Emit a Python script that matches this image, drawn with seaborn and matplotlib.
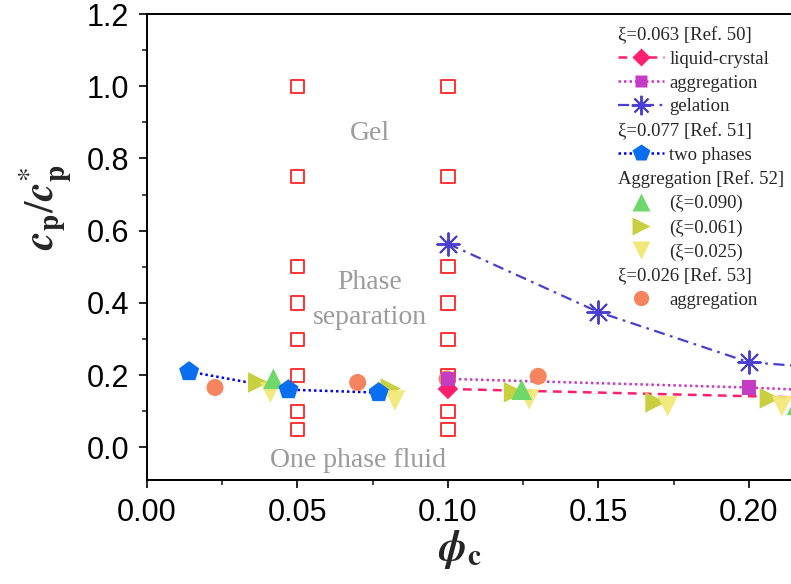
import numpy as np
import pandas as pd
import matplotlib
matplotlib.use('Agg')
import matplotlib.pyplot as plt
from matplotlib.lines import Line2D
from matplotlib.ticker import MultipleLocator, FormatStrFormatter
import seaborn as sns

# explored state points (open red squares)
grid_phi = [0.05, 0.10]
grid_cp = [0.05, 0.10, 0.20, 0.30, 0.40, 0.50, 0.75, 1.00]

# xi=0.063 [Ref. 50]
lc_phi = [0.10, 0.25]
lc_cp = [0.162, 0.132]
agg_phi = [0.10, 0.20, 0.25]
agg_cp = [0.190, 0.166, 0.148]
gel_phi = [0.10, 0.15, 0.20, 0.25]
gel_cp = [0.564, 0.375, 0.236, 0.205]

# xi=0.077 [Ref. 51]
two_phi = [0.014, 0.047, 0.077]
two_cp = [0.210, 0.160, 0.152]

# Aggregation [Ref. 52]
up_phi = [0.042, 0.1245, 0.216]
up_cp = [0.190, 0.160, 0.118]
right_phi = [0.037, 0.081, 0.122, 0.169, 0.207]
right_cp = [0.180, 0.163, 0.153, 0.125, 0.136]
down_phi = [0.041, 0.0824, 0.127, 0.173, 0.211]
down_cp = [0.152, 0.130, 0.133, 0.114, 0.114]

# xi=0.026 [Ref. 53]
circ_phi = [0.0226, 0.070, 0.0997, 0.130]
circ_cp = [0.166, 0.180, 0.190, 0.197]

sns.set_theme(style='ticks')
plt.rcParams['font.family'] = ['Liberation Sans', 'DejaVu Sans']
plt.rcParams['mathtext.fontset'] = 'stix'

c_lc = '#ff1f6e'
c_agg = '#c43cc4'
c_gel = '#4a3fd0'
c_two = '#0a6ef0'
c_two_line = '#0000ff'
c_up = '#6ed86a'
c_right = '#c8d040'
c_down = '#f2e878'
c_circ = '#f5845f'
c_grid = '#ff2424'

fig = plt.figure(figsize=(7.91, 5.84), dpi=100)
ax = fig.add_axes([147/791, 1 - 480/584, 1 - 147/791, 466/584])

grid = pd.DataFrame({'phi': np.repeat(grid_phi, len(grid_cp)),
                     'cp': np.tile(grid_cp, len(grid_phi))})
ax.scatter(grid['phi'], grid['cp'], marker='s', s=90, facecolors='none',
           edgecolors=c_grid, linewidths=1.3, zorder=2)

sns.lineplot(x=lc_phi, y=lc_cp, ax=ax, color=c_lc, linestyle=(0, (3.5, 2.5)),
             linewidth=1.8, estimator=None, sort=False, zorder=3)
sns.lineplot(x=agg_phi, y=agg_cp, ax=ax, color=c_agg, linestyle=(0, (1, 1.2)),
             linewidth=1.8, estimator=None, sort=False, zorder=3)
sns.lineplot(x=gel_phi, y=gel_cp, ax=ax, color=c_gel, linestyle=(0, (5, 2.5, 1.2, 2.5)),
             linewidth=1.6, estimator=None, sort=False, zorder=3)
sns.lineplot(x=two_phi, y=two_cp, ax=ax, color=c_two_line, linestyle=(0, (1, 1.2)),
             linewidth=1.8, estimator=None, sort=False, zorder=3)

sns.scatterplot(x=circ_phi, y=circ_cp, ax=ax, marker='o', s=150, color=c_circ,
                edgecolor='none', zorder=4)
sns.scatterplot(x=right_phi, y=right_cp, ax=ax, marker='>', s=220, color=c_right,
                edgecolor='none', zorder=4)
sns.scatterplot(x=down_phi, y=down_cp, ax=ax, marker='v', s=220, color=c_down,
                edgecolor='none', alpha=0.95, zorder=4)
sns.scatterplot(x=up_phi, y=up_cp, ax=ax, marker='^', s=220, color=c_up,
                edgecolor='none', zorder=4)
sns.scatterplot(x=two_phi, y=two_cp, ax=ax, marker='p', s=230, color=c_two,
                edgecolor='none', zorder=5)
sns.scatterplot(x=lc_phi, y=lc_cp, ax=ax, marker='D', s=110, color=c_lc,
                edgecolor='none', zorder=5)
sns.scatterplot(x=agg_phi, y=agg_cp, ax=ax, marker='s', s=110, color=c_agg,
                edgecolor='none', zorder=5)
ax.scatter(gel_phi, gel_cp, marker=(8, 2, 0), s=260, color=c_gel,
           linewidths=1.4, zorder=5)

serif = ['Liberation Serif', 'DejaVu Serif']
gray = '#9b9b9b'
ax.text(0.074, 0.87, 'Gel', family=serif, fontsize=20, color=gray,
        ha='center', va='center')
ax.text(0.074, 0.408, 'Phase\nseparation', family=serif, fontsize=20, color=gray,
        ha='center', va='center', linespacing=1.5)
ax.text(0.070, -0.035, 'One phase fluid', family=serif, fontsize=20, color=gray,
        ha='center', va='center')

ax.set_xlim(0, 0.214)
ax.set_ylim(-0.09, 1.2)
ax.xaxis.set_major_locator(MultipleLocator(0.05))
ax.xaxis.set_minor_locator(MultipleLocator(0.025))
ax.yaxis.set_major_locator(MultipleLocator(0.2))
ax.yaxis.set_minor_locator(MultipleLocator(0.1))
ax.xaxis.set_major_formatter(FormatStrFormatter('%.2f'))
ax.yaxis.set_major_formatter(FormatStrFormatter('%.1f'))
ax.tick_params(which='major', direction='out', length=6, width=1.2,
               labelsize=22, colors='black')
ax.tick_params(axis='x', which='major', pad=7)
ax.tick_params(axis='y', which='major', pad=7)
ax.tick_params(which='minor', direction='out', length=3.5, width=1.2)
ax.spines['right'].set_visible(False)
for s in ['left', 'bottom', 'top']:
    ax.spines[s].set_linewidth(1.4)
    ax.spines[s].set_color('black')

ax.set_ylabel(r'$\mathbfit{c}_\mathbf{p}/\mathbfit{c}_\mathbf{p}^{*}$', fontsize=30)
ax.yaxis.set_label_coords(-0.115, 0.585)
ax.set_xlabel(r'$\mathbfit{\phi}_\mathbf{c}$', fontsize=30)
ax.xaxis.set_label_coords(0.486, -0.103)

blank = Line2D([], [], linestyle='none')
handles = [
    blank,
    Line2D([], [], color=c_lc, linestyle=(0, (3.5, 2.5)), lw=1.8, marker='D', ms=9, mec='none'),
    Line2D([], [], color=c_agg, linestyle=(0, (1, 1.2)), lw=1.8, marker='s', ms=9, mec='none'),
    Line2D([], [], color=c_gel, linestyle=(0, (5, 2.5, 1.2, 2.5)), lw=1.6, marker=(8, 2, 0), ms=14, mew=1.4),
    blank,
    Line2D([], [], color=c_two_line, linestyle=(0, (1, 1.2)), lw=1.8, marker='p', ms=13, mfc=c_two, mec='none'),
    blank,
    Line2D([], [], color=c_up, linestyle='none', marker='^', ms=13, mec='none'),
    Line2D([], [], color=c_right, linestyle='none', marker='>', ms=13, mec='none'),
    Line2D([], [], color=c_down, linestyle='none', marker='v', ms=13, mec='none'),
    blank,
    Line2D([], [], color=c_circ, linestyle='none', marker='o', ms=11, mec='none'),
]
labels = ['ξ=0.063 [Ref. 50]', 'liquid-crystal', 'aggregation', 'gelation',
          'ξ=0.077 [Ref. 51]', 'two phases', 'Aggregation [Ref. 52]',
          '(ξ=0.090)', '(ξ=0.061)', '(ξ=0.025)', 'ξ=0.026 [Ref. 53]', 'aggregation']
headers = [0, 4, 6, 10]

fs = 13.5
hl, hp = 2.45, 0.3
leg = ax.legend(handles, labels, loc='upper left', bbox_to_anchor=(0.731, 0.974),
                frameon=False, prop={'family': serif, 'size': fs},
                handlelength=hl, handletextpad=hp, labelspacing=0.36,
                borderpad=0, borderaxespad=0, numpoints=1)
shift = (hl + hp) * fs * fig.dpi / 72
for i in headers:
    leg.get_texts()[i].set_x(-shift)

fig.savefig('out.png', dpi=100)
